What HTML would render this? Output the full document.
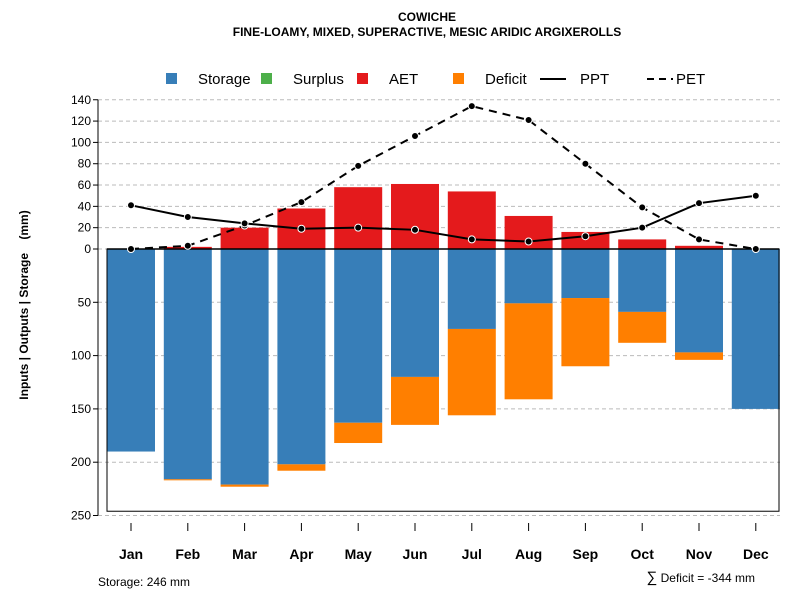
<!DOCTYPE html>
<html><head><meta charset="utf-8"><style>
body{margin:0;background:#fff}
svg{font-family:"Liberation Sans",sans-serif}
</style></head><body>
<svg id="c" width="800" height="600" xmlns="http://www.w3.org/2000/svg">
<text x="427" y="21" text-anchor="middle" font-size="12" font-weight="bold">COWICHE</text>
<text x="427" y="36" text-anchor="middle" font-size="12" font-weight="bold">FINE-LOAMY, MIXED, SUPERACTIVE, MESIC ARIDIC ARGIXEROLLS</text>
<g>
<rect x="166" y="73" width="11" height="11" fill="#377eb8"/>
<text x="198" y="84" font-size="15">Storage</text>
<rect x="261" y="73" width="11" height="11" fill="#4daf4a"/>
<text x="293" y="84" font-size="15">Surplus</text>
<rect x="357" y="73" width="11" height="11" fill="#e41a1c"/>
<text x="389" y="84" font-size="15">AET</text>
<rect x="453" y="73" width="11" height="11" fill="#ff7f00"/>
<text x="485" y="84" font-size="15">Deficit</text>
<line x1="540" y1="79" x2="566" y2="79" stroke="#000" stroke-width="2"/>
<text x="580" y="84" font-size="15">PPT</text>
<line x1="647" y1="79" x2="673" y2="79" stroke="#000" stroke-width="2" stroke-dasharray="7,5"/>
<text x="676" y="84" font-size="15">PET</text>
</g>
<text transform="translate(28,305) rotate(-90)" text-anchor="middle" font-size="12" font-weight="bold">Inputs | Outputs | Storage &#160;&#160;&#160;(mm)</text>
<text x="98" y="586" font-size="12">Storage: 246 mm</text>
<text x="755" y="582" text-anchor="end" font-size="12"><tspan font-size="15">∑</tspan> Deficit = -344 mm</text>
<g id="grid"></g><g id="bars"></g><g id="lines"></g><g id="axes"></g>
</svg>
<script>
const months=["Jan","Feb","Mar","Apr","May","Jun","Jul","Aug","Sep","Oct","Nov","Dec"];
const storage=[190,216,221,202,163,120,75,51,46,59,97,150];
const deficit=[0,1,2,6,19,45,81,90,64,29,7,0];
const aet=[0,2,20,38,58,61,54,31,16,9,3,0];
const ppt=[41,30,24,19,20,18,9,7,12,20,43,50];
const pet=[0,3,22,44,78,106,134,121,80,39,9,0];
const posTicks=[140,120,100,80,60,40,20,0];
const negTicks=[50,100,150,200,250];
const capacity=246;
const NS="http://www.w3.org/2000/svg";
const Y0=249,K=1.066;
const y=v=>Y0-v*K;
const x=i=>131+i*56.8;
const BW=48;
function mk(t,a,p){const e=document.createElementNS(NS,t);for(const k in a)e.setAttribute(k,a[k]);p.appendChild(e);return e;}
const G=document.getElementById('grid'),B=document.getElementById('bars'),L=document.getElementById('lines'),A=document.getElementById('axes');
posTicks.forEach(t=>{
 const g=mk('line',{x1:98,x2:780,y1:y(t),y2:y(t),stroke:'#bbb','stroke-dasharray':'4,3'},G);
 
 
 const tx=mk('text',{x:91,y:y(t)+4,'text-anchor':'end','font-size':12},A);tx.textContent=t;
 
 
 mk('line',{x1:93,x2:98,y1:y(t),y2:y(t),stroke:'#000'},A);
});
negTicks.forEach(t=>{
 const g=mk('line',{x1:98,x2:780,y1:y(-t),y2:y(-t),stroke:'#bbb','stroke-dasharray':'4,3'},G);
 
 
 const tx=mk('text',{x:91,y:y(-t)+4,'text-anchor':'end','font-size':12},A);tx.textContent=t;
 
 
 mk('line',{x1:93,x2:98,y1:y(-t),y2:y(-t),stroke:'#000'},A);
});
mk('line',{x1:98,x2:98,y1:y(140),y2:y(-250),stroke:'#000'},A);
months.forEach((m,i)=>{
 const s=mk('rect',{x:x(i)-BW/2,y:Y0,width:BW,height:storage[i]*K,fill:'#377eb8'},B);
 
 
 if(deficit[i]>0){const d=mk('rect',{x:x(i)-BW/2,y:y(-storage[i]),width:BW,height:deficit[i]*K,fill:'#ff7f00'},B);
 
 }
 if(aet[i]>0){const a=mk('rect',{x:x(i)-BW/2,y:y(aet[i]),width:BW,height:aet[i]*K,fill:'#e41a1c'},B);
 
 }
 mk('line',{x1:x(i),x2:x(i),y1:523,y2:531,stroke:'#000'},A);
 const t=mk('text',{x:x(i),y:559,'text-anchor':'middle','font-size':14,'font-weight':'bold'},A);t.textContent=m;
 
 
});
const box=mk('rect',{x:107,y:Y0,width:672,height:capacity*K,fill:'none',stroke:'#000','stroke-width':1},L);


mk('line',{x1:107,x2:779,y1:Y0,y2:Y0,stroke:'#000','stroke-width':1.5},L);
function series(vals,name,dash){
 const p=mk('polyline',{points:vals.map((v,i)=>x(i)+','+y(v)).join(' '),fill:'none',stroke:'#000','stroke-width':2,'stroke-dasharray':dash||'none'},L);
 
 
 vals.forEach((v,i)=>{const c=mk('circle',{cx:x(i),cy:y(v),r:3.5,fill:'#000',stroke:'#fff','stroke-width':1},L);
 
 });
}
series(pet,'pet','8,6');
series(ppt,'ppt');
</script>
</body></html>
